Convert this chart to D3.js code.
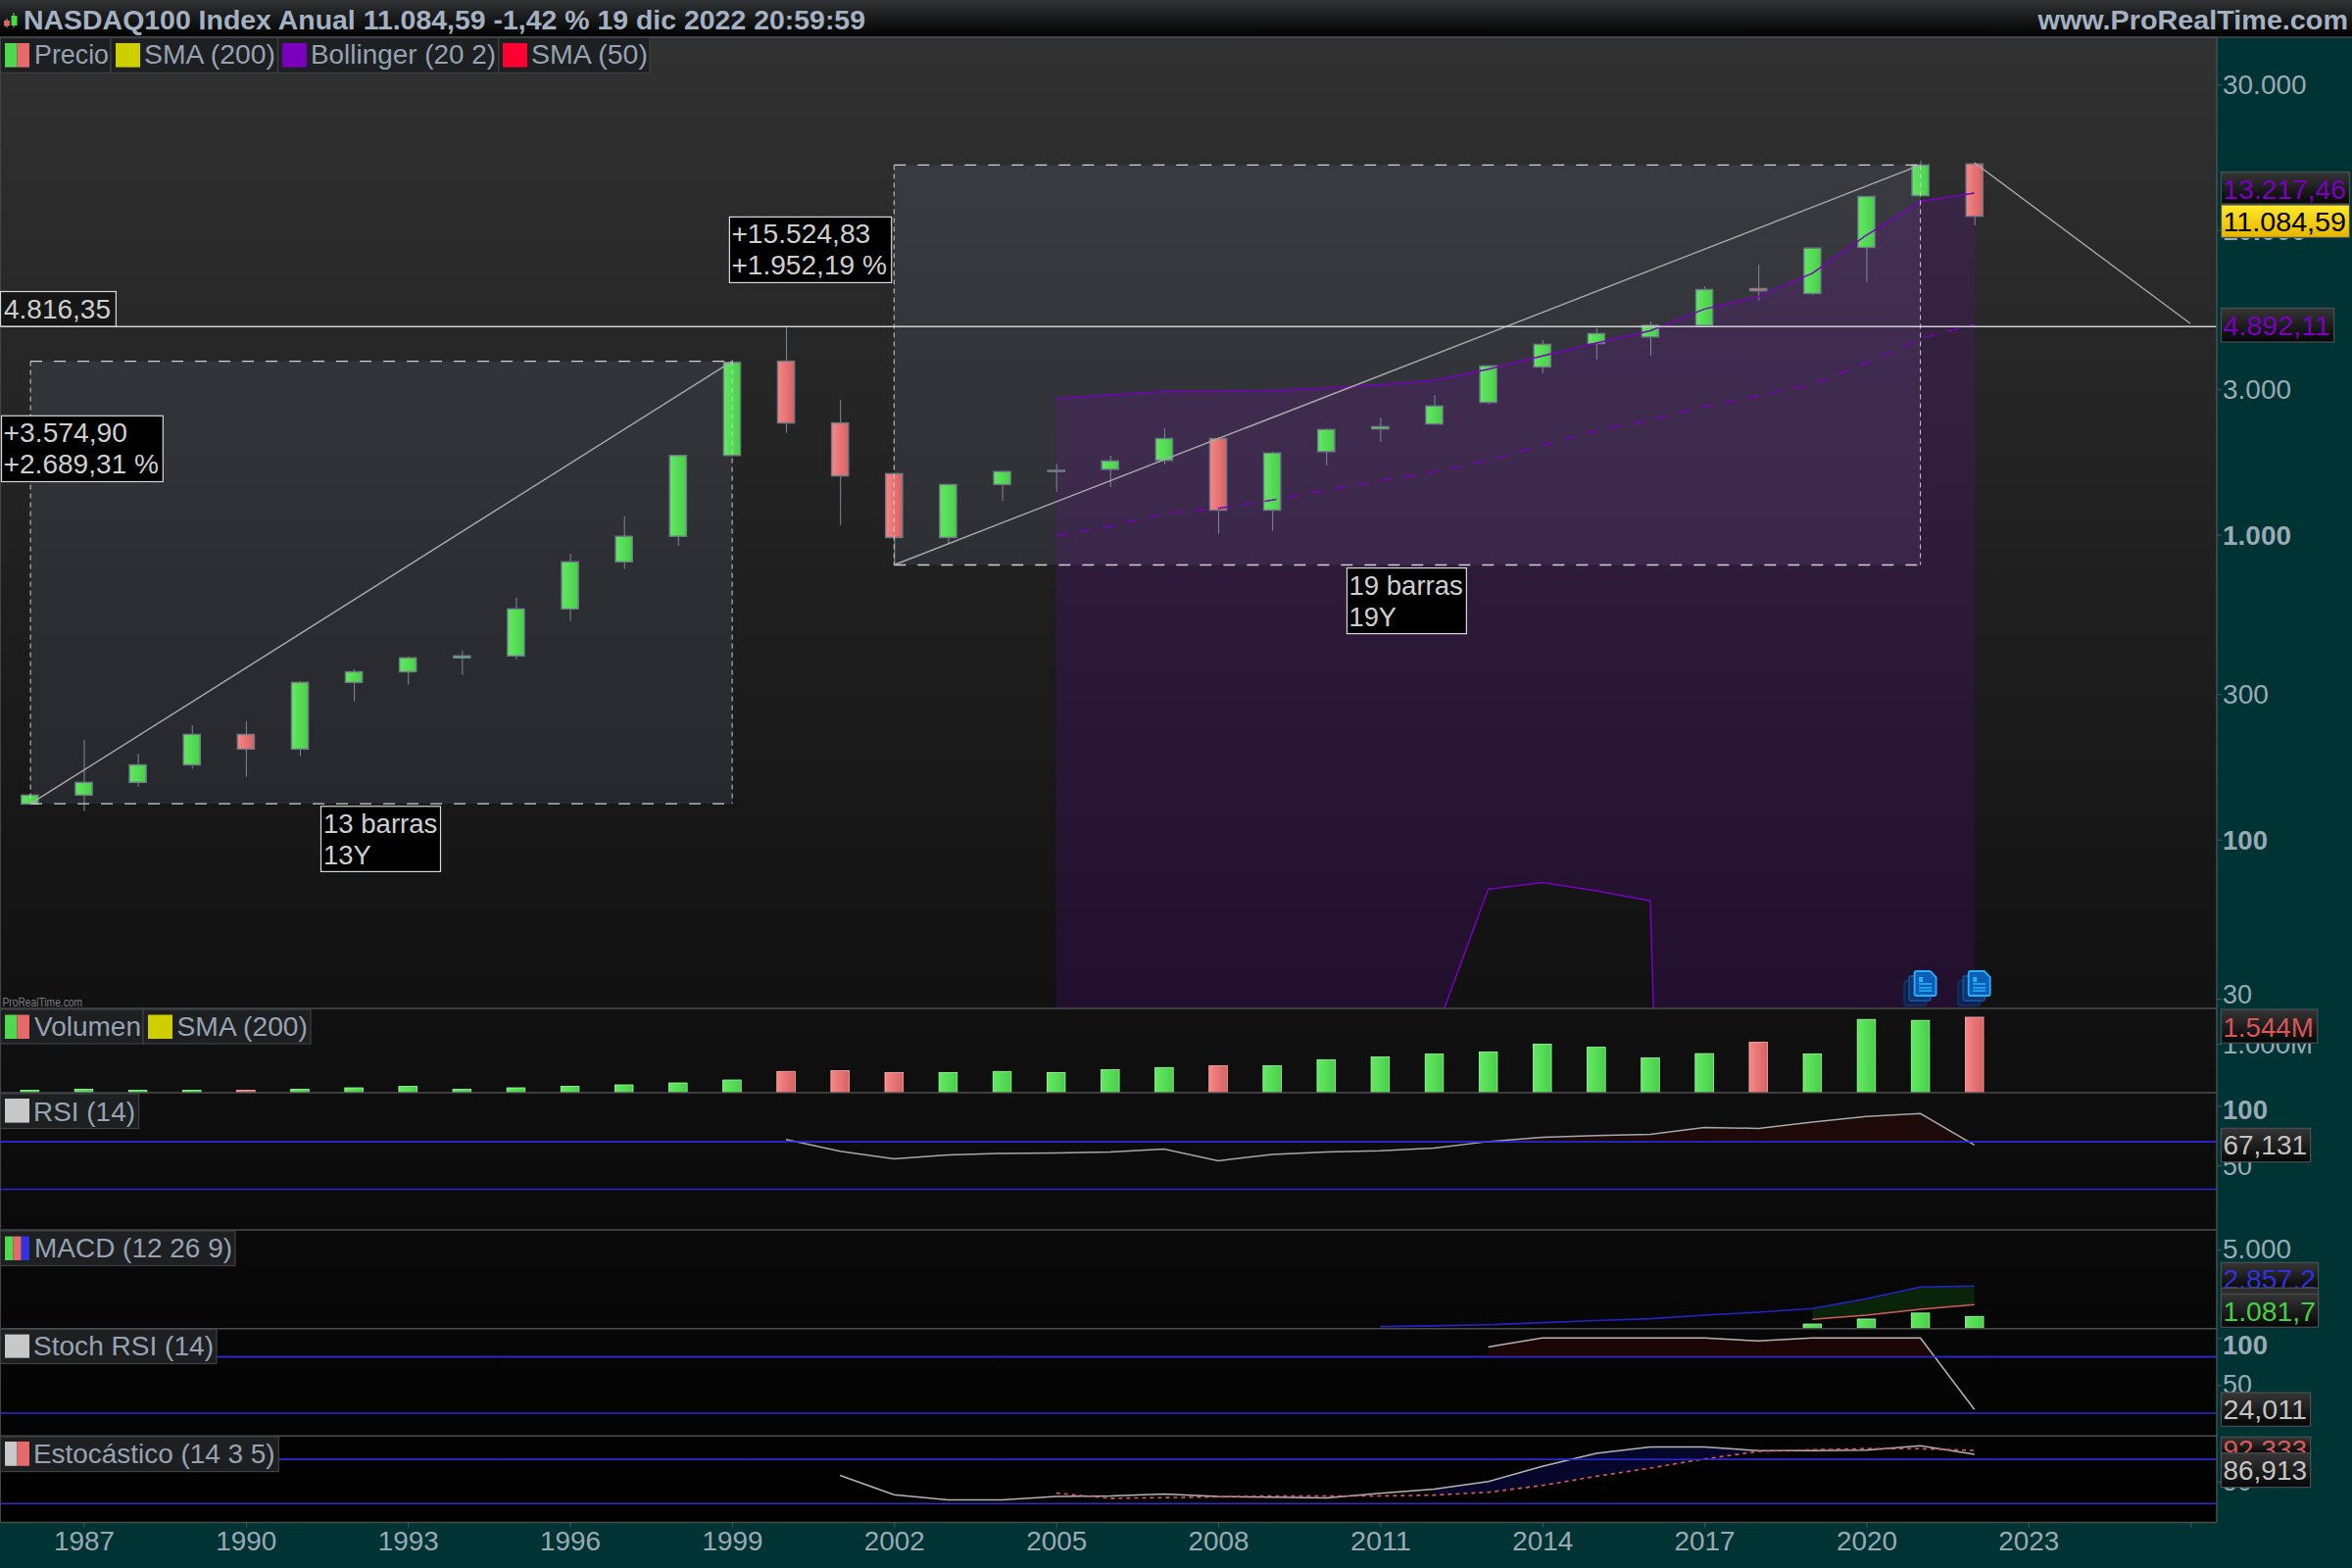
<!DOCTYPE html>
<html><head><meta charset="utf-8"><style>html,body{margin:0;background:#000}svg{display:block}text{font-family:"Liberation Sans",Arial,sans-serif}</style>
<script src="https://cdnjs.cloudflare.com/ajax/libs/d3/7.8.5/d3.min.js"></script></head><body><div id="c"></div>
<script>
const years=d3.range(1986,2023);
const opens=[130.7,139.8,153.9,175.7,221.1,198,327.6,354.9,394.3,400.1,570.9,814.6,988,1819,3707.8,2325,1586,979,1461,1611,1638,1753,2067,1204,1873,2224,2308,2716,3551,4236,4455,4862,6418,6185,8759,12950,16460];
const highs=[141,211.8,191.2,237.1,244.4,330.7,361.6,398.1,416.5,620.8,866.2,1150,1830,3757,4816.35,2772,1590,1465,1625,1712,1816,2235,2090,1871,2235,2424,2875,3600,4350,4754,5007,6518,7693,8760,12900,16866,16616];
const lows=[130,123.8,148.9,170.4,160.5,187.5,284,321.9,346.9,390.2,520.5,771,919,1810,2158,1076,795.5,932.6,1292,1382,1435,1702,1006,1029,1684,2017,2291,2677,3387,3757,3873,4860,5868,6121,6734,12950,10354];
const closes=[139.8,153.9,175.7,221.1,198,327.6,354.9,394.3,400.1,570.9,814.6,988,1819,3675,2325,1559,979,1461,1611,1626,1745,2067,1204,1853,2213,2262,2644,3578,4211,4570,4862,6370,6310,8712,12869,16324,11084.59];
const volumes=[.05,.07,.05,.05,.05,.07,.10,.13,.07,.10,.13,.16,.20,.26,.435,.45,.413,.413,.435,.413,.47,.515,.55,.55,.675,.73,.79,.835,.995,.93,.71,.80,1.035,.795,1.50,1.48,1.544];

const bandYears=d3.range(2005,2023);
const bbUpper=[2800,2870,2952,2952,2965,3027,3102,3204,3489,3855,4257,4670,5498,6045,7204,9607,12400,13217.46];
const bbMiddle=[993,1066,1175,1220,1299,1399,1502,1606,1753,1963,2194,2376,2628,2853,3113,3664,4399,4892.11];
const bbLower=[null,null,null,null,null,null,null,22.7,68.7,72.3,67.8,62.9,0.00005,null,null,null,null,null];

const rsiYears=d3.range(2000,2023);
const rsiValues=[71.8,61.9,55.6,58.9,60.1,60.4,61.3,63.7,53.9,59.2,61.3,62.2,64.6,70,73.6,75.1,76,81.9,81.1,86.3,91,93.5,67.131];
const macdYears=d3.range(2011,2023);
const macdValues=[491,531,594,720,840,949,1154,1326,1537,2109,2794,2857.2];
const signalYears=[2019,2020,2021,2022];
const signalValues=[909,1154,1497,1766];
const histValues=[638,929,1277,1081.7];
const stochRsiYears=d3.range(2013,2023);
const stochRsiValues=[90.5,100,100,100,100,96.9,100,100,100,24.011];
const stochKYears=d3.range(2001,2023);
const stochKValues=[58.3,32,25.2,25.2,29.6,30.5,33.1,29.6,28.7,27.7,34,39.7,50,70.8,88.3,97,97,92,92,92.8,98.7,86.913];
const stochDYears=d3.range(2005,2023);
const stochDValues=[34.4,27.2,28.2,29.1,30.5,30.5,30.5,31.6,35.5,44.7,57.2,68.4,80.7,91,93.3,94.7,94.7,92.333];
const xTickYears=d3.range(1987,2027,3);
const priceTicks=[30000,10000,3000,1000,300,100,30];

const W=2400,H=1600,PR=2262,FS=27.5;
const P={top:38,main:1029,vol:1115,rsi:1255,macd:1355.7,srsi:1465.3,sto:1553.5};
const svg=d3.select('#c').append('svg').attr('width',W).attr('height',H);
const defs=svg.append('defs');
function grad(id,stops,h){const g=defs.append('linearGradient').attr('id',id).attr('x1',0).attr('y1',0).attr('x2',h?1:0).attr('y2',h?0:1);
 stops.forEach(s=>g.append('stop').attr('offset',s[0]).attr('stop-color',s[1]));}
grad('bg',[[0,'#313131'],[.654,'#111111'],[1,'#000000']]);
grad('title',[[0,'#303234'],[1,'#000000']]);
grad('green',[[0,'#64e864'],[1,'#48cf48']],true);
grad('red',[[0,'#f88686'],[1,'#d66262']],true);
grad('tag',[[0,'#363636'],[1,'#060606']]);
grad('yel',[[0,'#ffe92a'],[1,'#e6b400']]);
function clip(id,y0,y1,x1){defs.append('clipPath').attr('id',id).append('rect').attr('x',0).attr('y',y0).attr('width',x1||PR).attr('height',y1-y0);}
clip('cMain',P.top,P.main);clip('cVol',P.main,P.vol);clip('cRsi',P.vol,P.rsi);clip('cMacd',P.rsi,P.macd);clip('cSrsi',P.macd,P.srsi);clip('cSto',P.srsi,P.sto);

const x=d3.scaleLinear().domain([1987,2026]).range([85.5,2235.2]);
const y=d3.scaleLog().domain([30000,100]).range([86.2,856.6]);
const yVol=d3.scaleLinear().domain([0,1.544]).range([1115,1038]);
const yRsi=d3.scaleLinear().domain([100,50]).range([1128.4,1189.2]);
const yMacd=d3.scaleLinear().domain([0,5000]).range([1362.2,1274.7]);
const ySrsi=d3.scaleLinear().domain([100,50]).range([1365.3,1413.3]);
const ySto=d3.scaleLinear().domain([80,20]).range([1489.3,1534.3]);
const loc=d3.formatLocale({thousands:'.',grouping:[3],decimal:',',currency:['','']});
const f0=loc.format(',.0f'),f2=loc.format(',.2f'),f3=loc.format(',.3f'),f1=loc.format(',.1f');

// backgrounds
svg.append('rect').attr('width',W).attr('height',H).attr('fill','#003333');
svg.append('rect').attr('y',P.top).attr('width',PR).attr('height',P.sto-P.top).attr('fill','url(#bg)');
svg.append('rect').attr('width',W).attr('height',38).attr('fill','url(#title)');

function lbl(g,s,x0,x1,base,size,color,weight){
 return g.append('text').attr('x',x0).attr('y',base).attr('font-size',size).attr('fill',color).attr('font-weight',weight||'normal')
  .attr('textLength',x1-x0).attr('lengthAdjust','spacingAndGlyphs').text(s);}

// --- main panel
const main=svg.append('g').attr('clip-path','url(#cMain)');
const boxFill='rgba(165,175,215,.11)';
const lineCol='#a9a9a9',dashCol='#cfcfcf';
const measures=[{y0:1986,y1:1999,v0:132.9,v1:3707.8},{y0:2002,y1:2021,v0:795.5,v1:16320}];
const boxG=main.append('g');
measures.forEach((m,i)=>{
 const xa=i==0?x(m.y0)+.7:x(m.y0),xb=i==0?x(m.y1)+.2:x(m.y1),ya=y(m.v1),yb=y(m.v0)+(i==0?2:0);
 boxG.append('rect').attr('x',xa).attr('y',ya).attr('width',xb-xa).attr('height',yb-ya).attr('fill',boxFill);
});
// bollinger
const idx=bandYears.map((d,i)=>i);
main.append('path').datum(idx).attr('fill','rgba(128,0,200,.156)').attr('d',d3.area()
  .x(i=>x(bandYears[i])).y1(i=>y(bbUpper[i])).y0(i=>bbLower[i]==null?P.main:y(bbLower[i])));
// candles
const cw=17.2;
const cand=main.append('g');
years.forEach((yr,i)=>{
 const up=closes[i]>=opens[i],xc=x(yr);
 cand.append('line').attr('x1',xc+.5).attr('x2',xc+.5).attr('y1',y(highs[i])).attr('y2',y(lows[i])).attr('stroke','#7f8a95').attr('stroke-width',1);
 const t=y(Math.max(opens[i],closes[i])),b=y(Math.min(opens[i],closes[i]));
 cand.append('rect').attr('x',xc-cw/2).attr('y',t).attr('width',cw).attr('height',Math.max(b-t,.6))
  .attr('fill',up?'url(#green)':'url(#red)').attr('stroke','#6d7a88').attr('stroke-width',1.4);
});
// band lines
const purple='#7a00c0';
const bl=(arr)=>d3.line().defined(i=>arr[i]!=null).x(i=>x(bandYears[i])).y(i=>y(arr[i]));
main.append('path').datum(idx).attr('fill','none').attr('stroke',purple).attr('stroke-width',1.5).attr('d',bl(bbUpper));
main.append('path').datum(idx).attr('fill','none').attr('stroke',purple).attr('stroke-width',1.5).attr('stroke-dasharray','12 12').attr('d',bl(bbMiddle));
main.append('path').datum(idx).attr('fill','none').attr('stroke',purple).attr('stroke-width',1.5).attr('d',bl(bbLower));
// measure outlines & diagonals
measures.forEach((m,i)=>{
 const xa=i==0?x(m.y0)+.7:x(m.y0),xb=i==0?x(m.y1)+.2:x(m.y1),ya=y(m.v1),yb=y(m.v0)+(i==0?2:0);
 main.append('line').attr('x1',xa).attr('x2',xb).attr('y1',ya).attr('y2',ya).attr('stroke',dashCol).attr('stroke-width',1.3).attr('stroke-dasharray','12 12');
 main.append('line').attr('x1',xa).attr('x2',xb).attr('y1',yb).attr('y2',yb).attr('stroke',dashCol).attr('stroke-width',1.3).attr('stroke-dasharray','12 12');
 [xa,xb].forEach(xx=>main.append('line').attr('x1',xx).attr('x2',xx).attr('y1',ya).attr('y2',yb).attr('stroke',dashCol).attr('stroke-width',1).attr('stroke-dasharray','5 4'));
 main.append('line').attr('x1',xa).attr('x2',xb).attr('y1',yb).attr('y2',ya).attr('stroke',lineCol).attr('stroke-width',1.4);
});
// trend line & horizontal
main.append('line').attr('x1',x(2022)).attr('y1',y(16616)).attr('x2',x(2026)).attr('y2',y(4923)).attr('stroke',lineCol).attr('stroke-width',1.4);
main.append('line').attr('x1',0).attr('x2',PR).attr('y1',y(4816.35)).attr('y2',y(4816.35)).attr('stroke','#d0d0d0').attr('stroke-width',1.5);
lbl(main,'ProRealTime.com',2.5,84,1027,12.5,'#7a7f85');
// doc icons
[2021,2022].forEach(yr=>{
 const g=main.append('g').attr('transform',`translate(${x(yr)-16.5},991)`);
 const page=(dx,dy,fill,stroke,op)=>g.append('path').attr('transform',`translate(${dx},${dy})`)
   .attr('d','M2 0H16L22 6V23Q22 25 20 25H2Q0 25 0 23V2Q0 0 2 0Z').attr('fill',fill).attr('stroke',stroke).attr('stroke-width',1.8).attr('opacity',op);
 page(0,10,'#0c2450','#123468',.9);page(5,5,'#0f3772','#18509c',.95);page(10.5,0,'#0c5fb4','#28b0fa',1);
 g.append('rect').attr('x',15).attr('y',6).attr('width',4).attr('height',5).attr('fill','#28b0fa');
 [13,17,20].forEach(v=>g.append('line').attr('x1',15).attr('x2',28).attr('y1',v).attr('y2',v).attr('stroke','#28b0fa').attr('stroke-width',1.6));
});

// --- volume
const vol=svg.append('g').attr('clip-path','url(#cVol)');
years.forEach((yr,i)=>{const up=closes[i]>=opens[i];
 vol.append('rect').attr('x',x(yr)-9.3).attr('y',yVol(volumes[i])).attr('width',18.6).attr('height',yVol(0)-yVol(volumes[i]))
  .attr('fill',up?'url(#green)':'url(#red)').attr('stroke',up?'#a0ffa0':'#ffb0b0').attr('stroke-width',.8);});

// --- helper for sub-panels
const blue='#2a2ad6';
function hline(sc,v){svg.append('line').attr('x1',0).attr('x2',PR).attr('y1',sc(v)).attr('y2',sc(v)).attr('stroke',blue).attr('stroke-width',1.5);}
function overFill(g,id,sc,xs,vs,thr,col){
 defs.append('clipPath').attr('id',id).append('rect').attr('x',0).attr('y',0).attr('width',PR).attr('height',sc(thr));
 g.append('g').attr('clip-path',`url(#${id})`).append('path').datum(vs.map((v,i)=>i)).attr('fill',col)
  .attr('d',d3.area().x(i=>x(xs[i])).y0(sc(thr)).y1(i=>sc(vs[i])));
}
function pline(g,sc,xs,vs,col,w,dash){const p=g.append('path').datum(vs.map((v,i)=>i)).attr('fill','none').attr('stroke',col).attr('stroke-width',w)
  .attr('d',d3.line().x(i=>x(xs[i])).y(i=>sc(vs[i])));if(dash)p.attr('stroke-dasharray',dash);}

// RSI
hline(yRsi,70);hline(yRsi,30);
const rsi=svg.append('g').attr('clip-path','url(#cRsi)');
overFill(rsi,'fr',yRsi,rsiYears,rsiValues,70,'#1e0909');
pline(rsi,yRsi,rsiYears,rsiValues,'#a8a8a8',1.5);
hline(yRsi,70);
// MACD
const macd=svg.append('g').attr('clip-path','url(#cMacd)');
macd.append('path').datum(signalYears.map((d,i)=>i)).attr('fill','#0a240a').attr('d',d3.area().x(i=>x(signalYears[i])).y0(i=>yMacd(signalValues[i])).y1(i=>yMacd(macdValues[macdYears.indexOf(signalYears[i])])));
signalYears.forEach((yr,i)=>macd.append('rect').attr('x',x(yr)-9.3).attr('y',yMacd(histValues[i])).attr('width',18.6).attr('height',yMacd(0)-yMacd(histValues[i])).attr('fill','url(#green)').attr('stroke','#a0ffa0').attr('stroke-width',.8));
pline(macd,yMacd,macdYears,macdValues,'#2424c8',1.6);
pline(macd,yMacd,signalYears,signalValues,'#d45c5c',1.6);
// Stoch RSI
hline(ySrsi,80);hline(ySrsi,20);
const srsi=svg.append('g').attr('clip-path','url(#cSrsi)');
overFill(srsi,'fs',ySrsi,stochRsiYears,stochRsiValues,80,'#1c0505');
pline(srsi,ySrsi,stochRsiYears,stochRsiValues,'#b5b5b5',1.5);
hline(ySrsi,80);
// Stochastic
hline(ySto,80);hline(ySto,20);
const sto=svg.append('g').attr('clip-path','url(#cSto)');
const kdIdx=stochDYears.map((d,i)=>i).filter(i=>stochDYears[i]>=2012&&stochDYears[i]<=2018);
sto.append('path').datum(kdIdx).attr('fill','#06062c').attr('d',d3.area().x(i=>x(stochDYears[i])).y0(i=>ySto(stochDValues[i])).y1(i=>ySto(stochKValues[stochKYears.indexOf(stochDYears[i])])));
hline(ySto,80);
pline(sto,ySto,stochKYears,stochKValues,'#b5b5b5',1.5);
pline(sto,ySto,stochDYears,stochDValues,'#d85a5a',1.6,'4 4');

// separators
const sep='#4c4c4c';
[P.top,P.main,P.vol,P.rsi,P.macd,P.srsi,P.sto].forEach(v=>svg.append('line').attr('x1',0).attr('x2',PR).attr('y1',v).attr('y2',v).attr('stroke',sep).attr('stroke-width',1.5));
svg.append('line').attr('x1',PR).attr('x2',PR).attr('y1',P.top).attr('y2',P.sto).attr('stroke','#45504f').attr('stroke-width',1.5);
svg.append('line').attr('x1',.5).attr('x2',.5).attr('y1',P.top).attr('y2',P.sto).attr('stroke','#444').attr('stroke-width',1);
svg.append('line').attr('x1',0).attr('x2',W).attr('y1',P.top).attr('y2',P.top).attr('stroke','#444a50').attr('stroke-width',1.5);

// title
const tc='#a3b1c2';
lbl(svg,'NASDAQ100 Index Anual 11.084,59 -1,42 % 19 dic 2022 20:59:59',24,883,29.5,28,tc,'bold');
lbl(svg,'www.ProRealTime.com',2079.6,2396,29.5,28,tc,'bold');
svg.append('line').attr('x1',7).attr('x2',7).attr('y1',19).attr('y2',28).attr('stroke','#aaa');
svg.append('rect').attr('x',4).attr('y',21).attr('width',6).attr('height',5.5).attr('fill','#e86060');
svg.append('line').attr('x1',14).attr('x2',14).attr('y1',13).attr('y2',28).attr('stroke','#aaa');
svg.append('rect').attr('x',11.5).attr('y',16).attr('width',6).attr('height',10).attr('fill','#44dd44');

// legends
const txt='#95a3b3';
const GR='#4fd94f',RD='#e56a6a';
function legend(items,y0,y1,sw0,sw1,base){
 items.forEach(it=>{
  svg.append('rect').attr('x',it.b0).attr('y',y0).attr('width',it.b1-it.b0).attr('height',y1-y0).attr('fill','#1e1f21').attr('stroke','#3d4145').attr('stroke-width',1.2);
  const n=it.sw.length;it.sw.forEach((c,i)=>svg.append('rect').attr('x',it.s+i*25/n).attr('y',sw0).attr('width',25/n).attr('height',sw1-sw0).attr('fill',c));
  lbl(svg,it.t,it.t0,it.t1,base,FS,txt);
 });
}
legend([{b0:.5,b1:113,s:5,sw:[GR,RD],t:'Precio',t0:35,t1:111},{b0:113,b1:283.5,s:118,sw:['#cfcf00'],t:'SMA (200)',t0:147,t1:281},
 {b0:283.5,b1:508.7,s:288,sw:['#7b00bd'],t:'Bollinger (20 2)',t0:317,t1:506},{b0:508.7,b1:663,s:513,sw:['#ff0033'],t:'SMA (50)',t0:542,t1:661}],38.5,74.4,44,68.6,65);
legend([{b0:.5,b1:146,s:5,sw:[GR,RD],t:'Volumen',t0:35,t1:144},{b0:146,b1:317,s:151,sw:['#cfcf00'],t:'SMA (200)',t0:180.5,t1:314}],1030,1065,1035.5,1060,1056.5);
legend([{b0:.5,b1:141.6,s:5,sw:['#c8c8c8'],t:'RSI (14)',t0:34,t1:138}],1116,1151.5,1121,1145.6,1143.5);
legend([{b0:.5,b1:240,s:5,sw:[GR,RD,'#3333dd'],t:'MACD (12 26 9)',t0:35,t1:237}],1256,1291.5,1261.6,1286,1282.7);
legend([{b0:.5,b1:221,s:5,sw:['#c8c8c8'],t:'Stoch RSI (14)',t0:34,t1:218}],1356.5,1391.5,1361.6,1385.6,1382.7);
legend([{b0:.5,b1:284.4,s:5,sw:['#c8c8c8',RD],t:'Estocástico (14 3 5)',t0:34,t1:280.6}],1466,1501.6,1471,1495.8,1493);

// axes
const axc='#9aa9b4';
function rAxis(sc,vals,fmt,opts){
 const g=svg.append('g').attr('transform',`translate(${PR},0)`).call(d3.axisRight(sc).tickValues(vals).tickFormat(fmt).tickSize(5).tickPadding(1));
 g.select('.domain').remove();
 g.selectAll('line').attr('stroke','#4a5a5a');
 g.selectAll('text').each(function(d){const o=opts(d);d3.select(this).attr('x',6).attr('dy',o.dy).attr('font-size',FS).attr('fill',axc).attr('font-weight',o.b?'bold':'normal').attr('textLength',o.w).attr('lengthAdjust','spacingAndGlyphs');});
 return g;
}
const wByChars=s=>s.length==2?30:s.length==3?(46):s.length==5?70:s.length==6?85.6:85.6;
rAxis(y,priceTicks,f0,d=>{const s=f0(d);const b=(d==10000||d==1000||d==100);return {dy:d==30?4.3:9.5,b,w:d==100?46:d==300?47:wByChars(s)};});
rAxis(yVol,[1],()=>'1.000M',()=>({dy:9.7,w:92}));
rAxis(yRsi,[100,50],f0,d=>({dy:d==100?13.3:9,b:d==100,w:d==100?46:30}));
rAxis(yMacd,[5000],f0,()=>({dy:9,w:70}));
rAxis(ySrsi,[100,50],f0,d=>({dy:d==100?16.4:8.4,b:d==100,w:d==100?46:30}));
rAxis(ySto,[50],f0,()=>({dy:8.5,w:30}));

const xa=svg.append('g').attr('transform',`translate(0,${P.sto})`).call(d3.axisBottom(x).tickValues(xTickYears).tickFormat(d=>d<2024?String(d):'').tickSize(5));
xa.select('.domain').remove();xa.selectAll('line').attr('stroke','#4a5a5a');
xa.selectAll('text').attr('y',0).attr('dy',28.8).attr('font-size',FS).attr('fill',axc).attr('font-family','Liberation Sans').each(function(d){if(d<2024)d3.select(this).attr('textLength',62).attr('lengthAdjust','spacingAndGlyphs');});

// value tags
function tag(s,x1,y0,y1,tx1,base,col,fill){
 svg.append('rect').attr('x',2266.5).attr('y',y0).attr('width',x1-2266.5).attr('height',y1-y0).attr('fill',fill||'url(#tag)').attr('stroke','#4a4f52').attr('stroke-width',1.2);
 if(s)lbl(svg,s,2268.5,tx1,base,FS,col);
}
tag(f2(bbUpper[17]),2397.5,175.5,208,2394,202.8,purple);
tag(f2(closes[36]),2397.5,209,242.4,2394,235.6,'#000','url(#yel)');
tag(f2(bbMiddle[17]),2381.6,314.4,349,2378,342,purple);
tag(f3(volumes[36]).replace(',','.')+'M',2364.7,1030,1064.3,2360.7,1057.7,'#d95757');
tag(f3(rsiValues[22]),2357.6,1151.3,1185.7,2354,1178.3,'#c4c4c4');
tag(f1(macdValues[11]),2365.6,1288.3,1316,2363,1315,'#3030dd');
tag(null,2365.6,1314.3,1348);
tag(f1(histValues[3]),2365.6,1320,1354.3,2363,1347.7,'#45cf45');
tag(f3(stochRsiValues[9]),2357.6,1421,1455.3,2354,1448.3,'#c4c4c4');
tag(f3(stochDValues[17]),2357.6,1466.3,1484,2354,1489,'#d85a5a');
// re-cover the clipped text of the blue tag
svg.append('rect').attr('x',2266.5).attr('y',1314.3).attr('width',99.1).attr('height',6).attr('fill','#2c2c2c').attr('stroke','#4a4f52').attr('stroke-width',1);
tag(f3(stochKValues[21]),2357.6,1482.7,1517.7,2354,1510,'#c4c4c4');

// annotation boxes
function note(x0,x1,y0,y1,lines,fill){
 svg.append('rect').attr('x',x0).attr('y',y0).attr('width',x1-x0).attr('height',y1-y0).attr('fill',fill||'#000').attr('stroke','#d8d8d8').attr('stroke-width',1.2);
 lines.forEach(l=>lbl(svg,l[0],l[1],l[2],l[3],FS,'#cfcfcf'));
}
note(.5,118.4,297.5,333,[[f2(4816.35),4,113,324.5]],'#161616');
note(1.5,166.3,424.3,491.5,[['+'+f2(3574.90),3.6,130,451.3],['+'+f2(2689.31)+' %',3.6,162,483.4]]);
note(744.4,909.7,221.4,288.4,[['+'+f2(15524.83),746.4,888.3,248.4],['+'+f2(1952.19)+' %',746.4,905,280.4]]);
note(327.5,449.5,822.8,889.4,[['13 barras',330,446.4,849.5],['13Y',330,378.6,881.6]]);
note(1374.5,1496.4,579.6,646.6,[['19 barras',1376.5,1492.9,606.7],['19Y',1376.5,1425,638.8]]);
</script></body></html>
